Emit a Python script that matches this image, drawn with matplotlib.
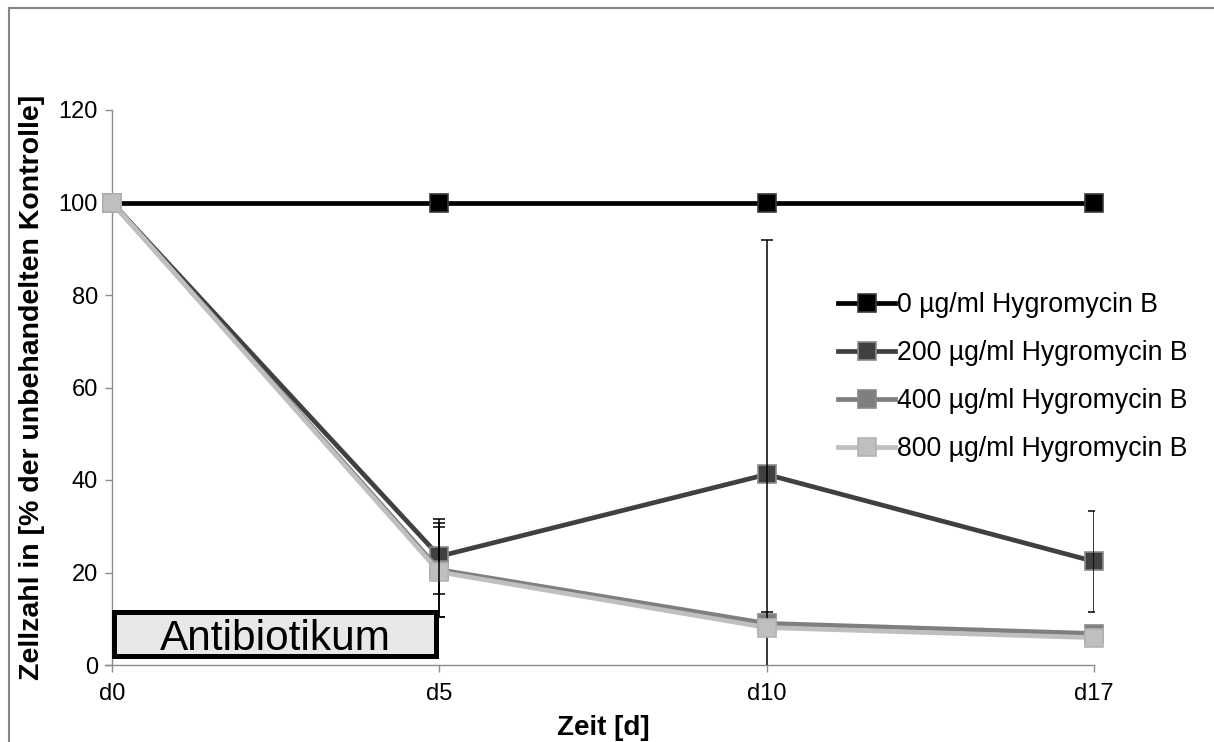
import matplotlib
matplotlib.use("Agg")
import matplotlib.pyplot as plt
from matplotlib.patches import Rectangle
from matplotlib.lines import Line2D

plt.rcParams['font.family'] = ['Liberation Sans', 'DejaVu Sans']

categories = ["d0", "d5", "d10", "d17"]
series_labels = ["0 µg/ml Hygromycin B", "200 µg/ml Hygromycin B",
                 "400 µg/ml Hygromycin B", "800 µg/ml Hygromycin B"]
v0 = [100, 100, 100, 100]
v200 = [100, 23.5, 41.2, 22.4]
v400 = [100, 20.6, 9.0, 6.8]
v800 = [100, 20.1, 8.1, 5.9]
e0 = [0, 0, 0, 0]
e200 = [0, 8.1, 50.8, 10.9]
e400 = [0, 10.2, 2.5, 0]
e800 = [0, 9.7, 0, 0]
yticks = [0, 20, 40, 60, 80, 100, 120]

values = [v0, v200, v400, v800]
errors = [e0, e200, e400, e800]
line_colors = ["#000000", "#404040", "#7f7f7f", "#bfbfbf"]
edge_colors = ["#3a3a3a", "#8a8a8a", "#8a8a8a", "#b3b3b3"]

W, H = 1214, 742
fig = plt.figure(figsize=(W / 100, H / 100), dpi=100)
ax = fig.add_axes([112 / W, 1 - 665 / H, (1094 - 112) / W, (665 - 110) / H])

x = list(range(len(categories)))
handles = []
for i, (vals, errs, lc, ec, lab) in enumerate(zip(values, errors, line_colors,
                                                   edge_colors, series_labels)):
    z = 3 + i
    h, = ax.plot(x, vals, color=lc, lw=3.4, marker="s", markersize=13,
                 markerfacecolor=lc, markeredgecolor=ec, markeredgewidth=1.2,
                 label=lab, zorder=z, clip_on=False)
    handles.append(h)
    xs = [xi for xi, e in zip(x, errs) if e > 0]
    ys = [v for v, e in zip(vals, errs) if e > 0]
    es = [e for e in errs if e > 0]
    if xs:
        ax.errorbar(xs, ys, yerr=es, fmt="none", ecolor="black",
                    elinewidth=1.1, capsize=4.5, capthick=1.1, zorder=z + 0.5)

ax.set_xlim(0, 3)
ax.set_ylim(0, 120)
ax.set_xticks(x)
ax.set_xticklabels(categories)
ax.set_yticks(yticks)

for s in ["top", "right"]:
    ax.spines[s].set_visible(False)
for s in ["left", "bottom"]:
    ax.spines[s].set_color("#8c8c8c")
    ax.spines[s].set_linewidth(1.0)
ax.spines["bottom"].set_bounds(-0.022, 3)
ax.tick_params(axis="both", direction="out", length=5, color="#8c8c8c",
               labelsize=17, width=1.0)
ax.tick_params(axis="x", pad=8)
ax.tick_params(axis="y", pad=5)

ax.set_xlabel("Zeit [d]", fontsize=20, fontweight="bold", labelpad=7)
ax.set_ylabel("Zellzahl in [% der unbehandelten Kontrolle]", fontsize=20.5,
              fontweight="bold", labelpad=10)

rect = Rectangle((0.005, 2.0), 0.985, 9.5, facecolor="#e8e8e8",
                 edgecolor="black", linewidth=3.6, zorder=10, clip_on=False)
ax.add_patch(rect)
ax.text(0.5, 5.6, "Antibiotikum", fontsize=30.5, ha="center", va="center",
        zorder=11)

leg = ax.legend(handles=handles, loc="upper left",
                bbox_to_anchor=(838 / W, 1 - 292 / H),
                bbox_transform=fig.transFigure, frameon=False,
                fontsize=19.2, handlelength=2.15, handletextpad=0.05,
                labelspacing=0.83, borderpad=0, borderaxespad=0)

# figure frame
fig.add_artist(Line2D([8.5 / W, 1.0], [1 - 8 / H, 1 - 8 / H],
                      transform=fig.transFigure, color="#868686", lw=1.5))
fig.add_artist(Line2D([8.5 / W, 8.5 / W], [0, 1 - 8 / H],
                      transform=fig.transFigure, color="#868686", lw=1.5))

fig.savefig("out.png", dpi=100)
